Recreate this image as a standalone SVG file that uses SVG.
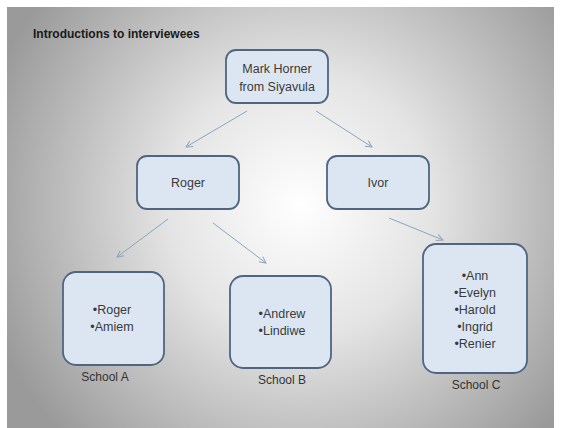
<svg xmlns="http://www.w3.org/2000/svg" width="561" height="428" viewBox="0 0 561 428">
<defs>
<radialGradient id="bg" gradientUnits="userSpaceOnUse" cx="300" cy="205" r="330">
<stop offset="0" stop-color="#ffffff"/>
<stop offset="0.4" stop-color="#e4e4e4"/>
<stop offset="1" stop-color="#9a9a9a"/>
</radialGradient>
<marker id="ah" viewBox="0 0 10 10" refX="9" refY="5" markerWidth="8" markerHeight="8" orient="auto" markerUnits="userSpaceOnUse">
<path d="M1,1 L9,5 L1,9" fill="none" stroke="#8ea3c0" stroke-width="1.2"/>
</marker>
</defs>
<style>
.box{fill:#dce6f2;stroke:#4f6580;stroke-width:1.8}
.t{font-family:"Liberation Sans",Arial,sans-serif;font-size:12.5px;fill:#3a3a3a;text-anchor:middle}
.lbl{font-family:"Liberation Sans",Arial,sans-serif;font-size:12px;fill:#333;text-anchor:middle}
.c{stroke:#8ea3c0;stroke-width:1;fill:none;marker-end:url(#ah)}
</style>
<rect x="0" y="0" width="561" height="428" fill="#ffffff"/>
<rect x="7" y="7" width="547" height="421" fill="url(#bg)"/>
<text x="33" y="38" font-family="'Liberation Sans',Arial,sans-serif" font-size="12" font-weight="bold" fill="#1a1a1a">Introductions to interviewees</text>
<g id="connectors">
<line class="c" x1="247" y1="111" x2="186" y2="147"/>
<line class="c" x1="316" y1="111" x2="372" y2="147"/>
<line class="c" x1="168" y1="219" x2="117" y2="257"/>
<line class="c" x1="213" y1="223" x2="266" y2="263"/>
<line class="c" x1="389" y1="218" x2="443" y2="240"/>
</g>
<g id="mark">
<rect class="box" x="226" y="50" width="102" height="53" rx="10"/>
<text class="t" x="277" y="73">Mark Horner</text>
<text class="t" x="277" y="91">from Siyavula</text>
</g>
<g id="roger">
<rect class="box" x="137" y="156" width="102" height="53" rx="10"/>
<text class="t" x="188" y="187">Roger</text>
</g>
<g id="ivor">
<rect class="box" x="327" y="156" width="102" height="53" rx="10"/>
<text class="t" x="378" y="187">Ivor</text>
</g>
<g id="schoolA">
<rect class="box" x="63" y="272" width="101" height="93" rx="13"/>
<text class="t" x="112" y="314">•Roger</text>
<text class="t" x="112" y="331">•Amiem</text>
<text class="lbl" x="105" y="381">School A</text>
</g>
<g id="schoolB">
<rect class="box" x="230" y="276" width="101" height="92" rx="13"/>
<text class="t" x="282" y="318">•Andrew</text>
<text class="t" x="282" y="335">•Lindiwe</text>
<text class="lbl" x="282" y="384">School B</text>
</g>
<g id="schoolC">
<rect class="box" x="423" y="244" width="104" height="129" rx="13"/>
<text class="t" x="475" y="280">•Ann</text>
<text class="t" x="475" y="297">•Evelyn</text>
<text class="t" x="475" y="314">•Harold</text>
<text class="t" x="475" y="331">•Ingrid</text>
<text class="t" x="475" y="348">•Renier</text>
<text class="lbl" x="476" y="389">School C</text>
</g>
</svg>
